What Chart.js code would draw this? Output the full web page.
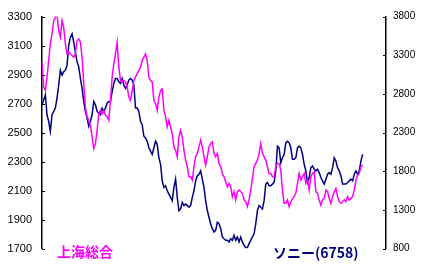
<!DOCTYPE html>
<html>
<head>
<meta charset="utf-8">
<script src="https://cdn.jsdelivr.net/npm/chart.js@4/dist/chart.umd.min.js"></script>
<style>
	body { margin: 0; background: #fff; }
	#wrap { position: relative; width: 433px; height: 273px; }
	canvas { display: block; }
	.lbl { position: absolute; font: bold 14px "Noto Sans CJK JP"; line-height: 14px; white-space: nowrap; }
</style>
</head>
<body>
<div id="wrap">
	<canvas id="myChart" width="433" height="273"></canvas>
	<span class="lbl" style="left:57px;top:244px;color:#ff00ff">上海総合</span>
	<span class="lbl" style="left:273px;top:245px;color:#000080">ソニー(6758)</span>
</div>
<script>
// 上海総合 (left axis)
var shanghai = [
	2986, 2814, 2791, 2883, 2997, 3112, 3181, 3272, 3295, 3314,
	3204, 3158, 3272, 3226, 3112, 3043, 3055, 3043, 3032, 3020,
	3043, 3135, 3146, 3123, 3020, 2837, 2676, 2608, 2585, 2550,
	2470, 2390, 2424, 2516, 2630, 2653, 2630, 2653, 2619, 2608,
	2585, 2722, 2883, 2974, 3043, 3123, 2951,
	2860, 2848, 2860, 2848, 2814, 2745, 2722, 2791, 2860, 2883,
	2906, 2928, 2951, 2997, 3020, 3043, 2997, 2883, 2860, 2848,
	2722, 2699, 2653, 2745, 2791, 2802, 2653, 2608, 2539, 2585,
	2539, 2493, 2401, 2378, 2333, 2470, 2516, 2470, 2378, 2310,
	2264, 2195, 2195, 2172, 2264, 2333, 2356, 2401,
	2447, 2401, 2333, 2275, 2333, 2401, 2424, 2436, 2356, 2333,
	2356, 2287, 2264, 2218, 2195, 2161, 2126, 2149, 2126, 2058,
	2092, 2035, 2092, 2103, 2092, 2081, 2035, 2023, 1989, 2035,
	2103, 2184, 2264, 2287, 2310, 2356, 2424, 2356, 2333, 2310,
	2264, 2218, 2218, 2195, 2195, 2264, 2287, 2287,
	2241, 2103, 2012, 2012, 2035, 1989, 2023, 2046, 2058, 2081,
	2149, 2218, 2172, 2195, 2218, 2149, 2172, 2103, 2195, 2218,
	2229, 2092, 2081, 2035, 2000, 2035, 2046, 2103, 2092, 2046,
	2012, 2058, 2092, 2115, 2058, 2023, 2012, 2023, 2035, 2023,
	2058, 2035, 2046, 2058, 2103, 2172, 2207, 2218, 2264, 2275
];

// ソニー(6758) (right axis)
var sony = [
	2658, 2722, 2787, 2530, 2445, 2316, 2530, 2573, 2616, 2744,
	2915, 3107, 3043, 3086, 3107, 3171, 3428, 3534, 3577, 3470,
	3342, 3214, 3150, 3000, 2872, 2701, 2573, 2487, 2380, 2445,
	2530, 2701, 2658, 2573, 2551, 2530, 2616, 2573, 2616, 2680,
	2701, 2701, 2829, 2936, 3000, 3000, 2957,
	2936, 3000, 2915, 2872, 2915, 2979, 3000, 2979, 2915, 2616,
	2616, 2573, 2445, 2402, 2252, 2231, 2188, 2103, 2060, 2017,
	2103, 2188, 2145, 1974, 1889, 1675, 1590, 1611, 1547, 1504,
	1462, 1419, 1590, 1697, 1462, 1291, 1312, 1398, 1355, 1376,
	1355, 1333, 1355, 1462, 1547, 1675, 1739, 1761,
	1804, 1697, 1590, 1419, 1291, 1205, 1120, 1056, 1013, 1034,
	1141, 1120, 1056, 949, 927, 906, 906, 885, 927, 906,
	970, 906, 949, 885, 949, 885, 842, 810, 812, 863,
	906, 949, 991, 1120, 1291, 1355, 1333, 1312, 1419, 1633,
	1654, 1611, 1611, 1633, 1654, 1804, 2124, 2103,
	1910, 1974, 2017, 2167, 2188, 2167, 2103, 1953, 1953, 1974,
	2103, 2124, 2103, 2017, 1889, 1804, 1654, 1718, 1846, 1868,
	1825, 1804, 1825, 1782, 1718, 1675, 1633, 1697, 1761, 1782,
	1761, 1846, 1974, 1932, 1846, 1804, 1739, 1633, 1633, 1633,
	1654, 1675, 1697, 1675, 1761, 1804, 1761, 1804, 1932, 2017
];

// trading days; the axis runs on a little past the last one
var days = [];
for (var i = 1; i <= 207; i++) days.push(i);

var leftTicks = { min: 1700, max: 3300, step: 200 };
var rightTicks = { min: 800, max: 3800, step: 500 };

// short tick marks pointing into the plot
var innerTicks = {
	id: 'innerTicks',
	afterDraw: function (chart) {
		var ctx = chart.ctx;
		ctx.save();
		ctx.strokeStyle = '#000';
		ctx.lineWidth = 1;
		['y', 'y1'].forEach(function (id) {
			var s = chart.scales[id];
			var x0 = id === 'y' ? s.right : s.left;
			var dir = id === 'y' ? 1 : -1;
			s.ticks.forEach(function (t) {
				var py = Math.round(s.getPixelForValue(t.value)) + 0.5;
				ctx.beginPath();
				ctx.moveTo(x0, py);
				ctx.lineTo(x0 + dir * 3, py);
				ctx.stroke();
			});
		});
		ctx.restore();
	}
};

function plain(v) { return String(v); }

var ctx = document.getElementById("myChart").getContext("2d");

var myChart = new Chart(ctx, {
	type: 'line',
	data: {
		labels: days,
		datasets: [
			{
				label: "上海総合",
				data: shanghai,
				yAxisID: 'y',
				borderColor: "#ff00ff",
				borderWidth: 1.5,
				pointRadius: 0,
				tension: 0
			},
			{
				label: "ソニー(6758)",
				data: sony,
				yAxisID: 'y1',
				borderColor: "#000080",
				borderWidth: 1.5,
				pointRadius: 0,
				tension: 0
			}
		]
	},
	options: {
		responsive: false,
		animation: false,
		devicePixelRatio: 1,
		layout: { padding: { top: 15, bottom: 24.5, left: 0, right: 0 } },
		plugins: { legend: { display: false }, tooltip: { enabled: false } },
		scales: {
			x: { display: false, offset: false },
			y: {
				position: 'left',
				min: leftTicks.min,
				max: leftTicks.max,
				grid: { display: false, drawTicks: false },
				border: { display: true, color: '#000', width: 1.5 },
				ticks: { stepSize: leftTicks.step, color: '#000', padding: 10, callback: plain,
					font: { family: 'Liberation Sans', size: 11 } },
				afterFit: function (s) { s.width = 42; }
			},
			y1: {
				position: 'right',
				min: rightTicks.min,
				max: rightTicks.max,
				grid: { display: false, drawTicks: false },
				border: { display: true, color: '#000', width: 1.5 },
				ticks: { stepSize: rightTicks.step, color: '#000', padding: 7, callback: plain,
					font: { family: 'Liberation Sans', size: 10 } },
				afterFit: function (s) { s.width = 47; }
			}
		}
	},
	plugins: [innerTicks]
});
</script>
</body>
</html>
